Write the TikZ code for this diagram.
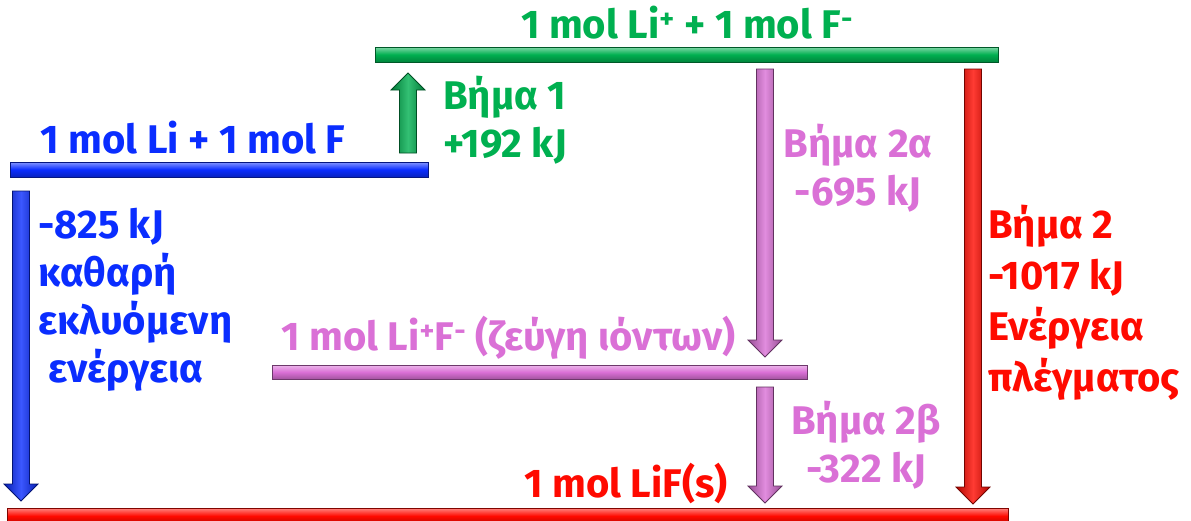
\documentclass[tikz,border=0pt]{standalone}
\usepackage{fontspec}
\setmainfont{Fira Sans}
\usetikzlibrary{calc}

\definecolor{stepgreen}{RGB}{0,176,80}
\definecolor{stepblue}{RGB}{10,45,255}
\definecolor{steppink}{RGB}{218,112,214}
\definecolor{stepred}{RGB}{255,10,0}

\tikzset{
	levelbar/.style={draw=#1!50!black, line width=0.7pt, top color=#1!50!white, bottom color=#1!75!black, middle color=#1},
	stepshade/.style={draw=#1!45!black, line width=0.8pt, left color=#1!70!black, right color=#1!70!black, middle color=#1!80!white},
	steplabel/.style={text=#1, font=\fontsize{40}{48}\selectfont\bfseries, inner sep=0pt},
}

% block arrow: colour, tail, tip
\newcommand{\levelarrow}[3]{%
	\coordinate (hb) at ($(#3)!17pt!(#2)$);
	\path[stepshade=#1] ($(#2)+(-8.5,0)$) -- ($(hb)+(-8.5,0)$) -- ($(hb)+(-17,0)$) -- (#3)
		-- ($(hb)+(17,0)$) -- ($(hb)+(8.5,0)$) -- ($(#2)+(8.5,0)$) -- cycle;
}

\begin{document}
\begin{tikzpicture}[x=1pt, y=-1pt]
	\useasboundingbox[fill=white] (0,0) rectangle (1191,520);
	% energy levels
	\shade[levelbar=stepgreen] (375,47) rectangle (998,62);
	\shade[levelbar=stepblue] (10,162) rectangle (428,177);
	\shade[levelbar=steppink] (272,365) rectangle (807,379);
	\shade[levelbar=stepred] (7,508) rectangle (1008,524);
	% arrow ends
	\coordinate (oneTail) at (408,153);
	\coordinate (oneTip) at (408,73);
	\coordinate (netTail) at (21,191);
	\coordinate (netTip) at (21,501);
	\coordinate (twoaTail) at (765,69);
	\coordinate (twoaTip) at (765,357);
	\coordinate (twobTail) at (765,387);
	\coordinate (twobTip) at (765,503);
	\coordinate (latTail) at (973,69);
	\coordinate (latTip) at (973,504);
	\levelarrow{stepgreen}{oneTail}{oneTip}
	\levelarrow{stepblue}{netTail}{netTip}
	\levelarrow{steppink}{twoaTail}{twoaTip}
	\levelarrow{steppink}{twobTail}{twobTip}
	\levelarrow{stepred}{latTail}{latTip}
	% labels
	\node[steplabel=stepgreen, anchor=base] (ionsLbl) at (687,38) {1 mol Li\textsuperscript{+} + 1 mol F\textsuperscript{-}};
	\node[steplabel=stepblue, anchor=base] (atomsLbl) at (193,153) {1 mol Li + 1 mol F};
	\node[steplabel=steppink, anchor=base west] (pairLbl) at (281,350) {1 mol Li\textsuperscript{+}F\textsuperscript{-} (ζεύγη ιόντων)};
	\node[steplabel=stepred, anchor=base] (lifLbl) at (626,497) {1 mol LiF(s)};
	\node[steplabel=stepgreen, anchor=north west, align=left] (oneLbl) at (443,76) {Βήμα 1\\+192 kJ};
	\node[steplabel=stepblue, anchor=north west, align=left] (netLbl) at (38,208) {-825 kJ\\καθαρή\\εκλυόμενη\\\hspace*{0.25em}ενέργεια};
	\node[steplabel=steppink, anchor=north, align=center] (twoaLbl) at (858,124) {Βήμα 2α\\-695 kJ};
	\node[steplabel=steppink, anchor=north, align=center] (twobLbl) at (866,401) {Βήμα 2β\\-322 kJ};
	\node[steplabel=stepred, anchor=north west, align=left, font=\fontsize{40}{51}\selectfont\bfseries] (latLbl) at (988,205) {Βήμα 2\\-1017 kJ\\Ενέργεια\\πλέγματος};
\end{tikzpicture}
\end{document}
